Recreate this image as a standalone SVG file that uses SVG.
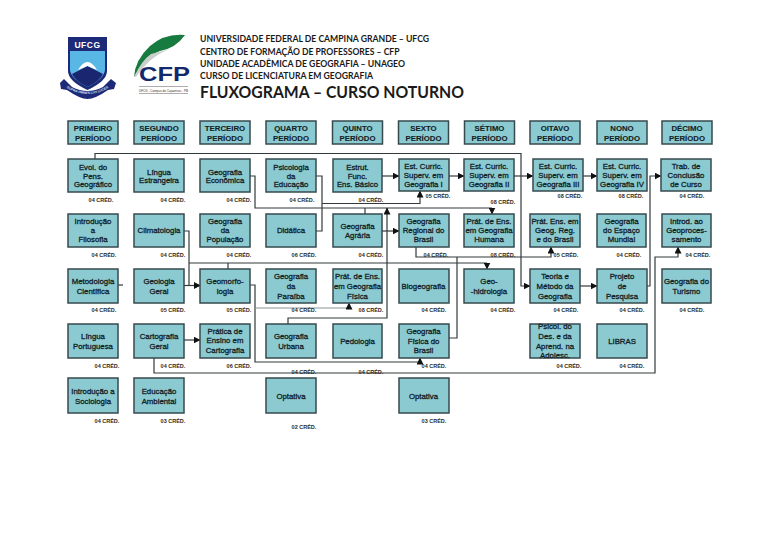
<svg xmlns="http://www.w3.org/2000/svg" width="768" height="543" viewBox="0 0 768 543">
<defs>
<marker id="a" markerWidth="7" markerHeight="7" refX="6.500" refY="3.500" orient="auto" markerUnits="userSpaceOnUse"><path d="M0 0L7 3.500L0 7Z" fill="#111"/></marker>
</defs>
<style>
.h{font-family:"Lato","Liberation Sans",sans-serif;font-weight:700;fill:#1a1a1a}
.hs{font-size:9.400px}
.t{font-size:17px}
.n rect{fill:#8ccad1;stroke:#364a4e;stroke-width:1.500}
.n text{font-family:"Liberation Sans",Arial,sans-serif;font-size:7.800px;fill:#122226;text-anchor:middle;stroke:#122226;stroke-width:.3}
.p text{font-size:7.800px;font-weight:700;stroke-width:.1}
.c{font-family:"Liberation Sans",Arial,sans-serif;font-size:5.500px;font-weight:700;fill:#2a2a2a;text-anchor:middle}
#connectors path{fill:none;stroke:#333a3c;stroke-width:1.200}
.m{marker-end:url(#a)}
</style>
<rect width="768" height="543" fill="#fff"/>
<g id="logo-ufcg">
<path d="M68 37H107V71Q107 81 87.500 90Q68 81 68 71Z" fill="#1c2a78"/>
<path d="M70 51H105V70Q104 79 87.500 87Q71 79 70 70Z" fill="#58b7e4"/>
<path d="M72 74L87.500 66L103 74Q100 81 87.500 87Q75 81 72 74Z" fill="#1a2670"/>
<path d="M78 70Q87.500 54 97 70L87.500 66Z" fill="#fff"/>
<text x="87.500" y="48" font-family="Liberation Sans,sans-serif" font-size="8.500" font-weight="700" fill="#fff" text-anchor="middle" letter-spacing=".5">UFCG</text>
<path d="M60 83L64 79L72 87Q87.500 95 103 87L111 79L116 83L114 89L108 90Q95 99 87.500 99Q80 99 67 90L61 89Z" fill="#1c2a78"/>
<path id="rb" d="M67 88Q87.500 100 108 88" fill="none"/>
<text font-family="Liberation Sans,sans-serif" font-size="3.300" font-weight="700" fill="#dfe6f5" text-anchor="middle"><textPath href="#rb" startOffset="50%">SUPRA OMNES LUX LUCES</textPath></text>
</g>
<g id="logo-cfp">
<path d="M134 77Q135 60 150 46Q165 33 185 35Q176 48 160 51Q146 56 134 77Z" fill="#177a3e"/>
<path d="M134 77Q142 60 151 54L170 49Q150 56 136 77Z" fill="#c9cfcc"/>
<text x="139" y="80.500" font-family="Liberation Sans,sans-serif" font-size="21" font-weight="700" fill="#14286e" textLength="51" lengthAdjust="spacingAndGlyphs">CFP</text>
<text x="139" y="91.500" font-family="Liberation Sans,sans-serif" font-size="4.200" fill="#333" textLength="49" lengthAdjust="spacingAndGlyphs">UFCG - Campus de Cajazeiras - PB</text>
<path d="M139 86.500H188M139 93.500H188" stroke="#777" stroke-width=".6"/>
</g>
<g id="title">
<text class="h hs" x="200" y="42" textLength="229" lengthAdjust="spacingAndGlyphs">UNIVERSIDADE FEDERAL DE CAMPINA GRANDE – UFCG</text>
<text class="h hs" x="200" y="54.500" textLength="199.500" lengthAdjust="spacingAndGlyphs">CENTRO DE FORMAÇÃO DE PROFESSORES – CFP</text>
<text class="h hs" x="200" y="66.500" textLength="205" lengthAdjust="spacingAndGlyphs">UNIDADE ACADÊMICA DE GEOGRAFIA – UNAGEO</text>
<text class="h hs" x="200" y="78.500" textLength="173" lengthAdjust="spacingAndGlyphs">CURSO DE LICENCIATURA EM GEOGRAFIA</text>
<text class="h t" x="200" y="98" textLength="264" lengthAdjust="spacingAndGlyphs">FLUXOGRAMA – CURSO NOTURNO</text>
</g>
<g id="connectors">
<path class="m" d="M95 159V153.500H521V286H530"/>
<path d="M250 176H255V208H492"/><path class="m" d="M492 208V214"/>
<path d="M316 176H322V231H316"/>
<path class="m" d="M322 203.500H420V191"/>
<path d="M365 214V208"/>
<path class="m" d="M288 324V318H387V208"/>
<path d="M189 263H487"/><path class="m" d="M487 263V269"/>
<path d="M228 263V269"/>
<path class="m" d="M184 231H189V285.500H200"/>
<path class="m" d="M184 285.500H200"/>
<path d="M118 285H123"/>
<path class="m" d="M250 285H255V362H420V358"/>
<path class="m" d="M255 308H349V303" style="stroke:#8a9496"/>
<path class="m" d="M154 358V373H655V257H678V247"/>
<path class="m" d="M184 340H200"/>
<path class="m" d="M382 176H399"/>
<path class="m" d="M449 176H464"/>
<path class="m" d="M514 176H533"/>
<path class="m" d="M583 176H597"/>
<path class="m" d="M647 286H650V176H661"/>
<path class="m" d="M580 286H597"/>
<path class="m" d="M382 231H399"/>
<path class="m" d="M416 247V257H551V247"/>
<path d="M457 257V338H449"/>
</g>
<g id="headers" class="n p">
<g id="h1"><rect x="68" y="121" width="50" height="23"/><text x="93" y="130.500">PRIMEIRO</text><text x="93" y="140.500">PERÍODO</text></g>
<g id="h2"><rect x="134" y="121" width="50" height="23"/><text x="159" y="130.500">SEGUNDO</text><text x="159" y="140.500">PERÍODO</text></g>
<g id="h3"><rect x="200" y="121" width="50" height="23"/><text x="225" y="130.500">TERCEIRO</text><text x="225" y="140.500">PERÍODO</text></g>
<g id="h4"><rect x="266" y="121" width="50" height="23"/><text x="291" y="130.500">QUARTO</text><text x="291" y="140.500">PERÍODO</text></g>
<g id="h5"><rect x="332.500" y="121" width="50" height="23"/><text x="357.500" y="130.500">QUINTO</text><text x="357.500" y="140.500">PERÍODO</text></g>
<g id="h6"><rect x="398.500" y="121" width="50" height="23"/><text x="423.500" y="130.500">SEXTO</text><text x="423.500" y="140.500">PERÍODO</text></g>
<g id="h7"><rect x="464.500" y="121" width="50" height="23"/><text x="489.500" y="130.500">SÉTIMO</text><text x="489.500" y="140.500">PERÍODO</text></g>
<g id="h8"><rect x="530" y="121" width="50" height="23"/><text x="555" y="130.500">OITAVO</text><text x="555" y="140.500">PERÍODO</text></g>
<g id="h9"><rect x="597" y="121" width="50" height="23"/><text x="622" y="130.500">NONO</text><text x="622" y="140.500">PERÍODO</text></g>
<g id="h10"><rect x="662" y="121" width="50" height="23"/><text x="687" y="130.500">DÉCIMO</text><text x="687" y="140.500">PERÍODO</text></g>
</g>
<g class="n">
<g id="n1-1"><rect x="68" y="159" width="50" height="33"/><text x="93" y="170">Evol. do</text><text x="93" y="178.500">Pens.</text><text x="93" y="187">Geográfico</text></g>
<g id="n2-1"><rect x="134" y="159" width="50" height="33"/><text x="159" y="175">Língua</text><text x="159" y="183">Estrangeira</text></g>
<g id="n3-1"><rect x="200" y="159" width="50" height="33"/><text x="225" y="175">Geografia</text><text x="225" y="183">Econômica</text></g>
<g id="n4-1"><rect x="266" y="159" width="50" height="33"/><text x="291" y="170">Psicologia</text><text x="291" y="178.500">da</text><text x="291" y="187">Educação</text></g>
<g id="n5-1"><rect x="333" y="159" width="49" height="33"/><text x="357.500" y="170">Estrut.</text><text x="357.500" y="178.500">Func.</text><text x="357.500" y="187">Ens. Básico</text></g>
<g id="n6-1"><rect x="399" y="159" width="50" height="32"/><text x="423.500" y="169">Est. Curric.</text><text x="423.500" y="178">Superv. em</text><text x="423.500" y="186.500">Geografia I</text></g>
<g id="n7-1"><rect x="464" y="159" width="50" height="32"/><text x="489" y="169">Est. Curric.</text><text x="489" y="178">Superv. em</text><text x="489" y="186.500">Geografia II</text></g>
<g id="n8-1"><rect x="533" y="159" width="50" height="32"/><text x="558" y="169">Est. Curric.</text><text x="558" y="178">Superv. em</text><text x="558" y="186.500">Geografia III</text></g>
<g id="n9-1"><rect x="597" y="159" width="50" height="32"/><text x="622" y="169">Est. Curric.</text><text x="622" y="178">Superv. em</text><text x="622" y="186.500">Geografia IV</text></g>
<g id="n10-1"><rect x="661" y="159" width="50" height="32"/><text x="686" y="169">Trab. de</text><text x="686" y="178">Conclusão</text><text x="686" y="186.500">de Curso</text></g>

<g id="n1-2"><rect x="68" y="214" width="50" height="33"/><text x="93" y="224">Introdução</text><text x="93" y="233">a</text><text x="93" y="242">Filosofia</text></g>
<g id="n2-2"><rect x="134" y="214" width="50" height="33"/><text x="159" y="233">Climatologia</text></g>
<g id="n3-2"><rect x="200" y="214" width="50" height="33"/><text x="225" y="224">Geografia</text><text x="225" y="233">da</text><text x="225" y="242">População</text></g>
<g id="n4-2"><rect x="266" y="214" width="50" height="33"/><text x="291" y="233">Didática</text></g>
<g id="n5-2"><rect x="333" y="214" width="49" height="33"/><text x="357.500" y="229">Geografia</text><text x="357.500" y="238">Agrária</text></g>
<g id="n6-2"><rect x="399" y="214" width="50" height="33"/><text x="423.500" y="224">Geografia</text><text x="423.500" y="233">Regional  do</text><text x="423.500" y="242">Brasil</text></g>
<g id="n7-2"><rect x="464" y="214" width="50" height="33"/><text x="489" y="224">Prát. de Ens.</text><text x="489" y="233">em Geografia</text><text x="489" y="242">Humana</text></g>
<g id="n8-2"><rect x="530" y="214" width="50" height="33"/><text x="555" y="224">Prát. Ens. em</text><text x="555" y="233">Geog. Reg.</text><text x="555" y="242">e do Brasil</text></g>
<g id="n9-2"><rect x="597" y="214" width="49" height="33"/><text x="621.500" y="224">Geografia</text><text x="621.500" y="233">do Espaço</text><text x="621.500" y="242">Mundial</text></g>
<g id="n10-2"><rect x="662" y="214" width="49" height="33"/><text x="686.500" y="224">Introd. ao</text><text x="686.500" y="233">Geoproces-</text><text x="686.500" y="242">samento</text></g>

<g id="n1-3"><rect x="68" y="269" width="50" height="34"/><text x="93" y="284">Metodologia</text><text x="93" y="294">Científica</text></g>
<g id="n2-3"><rect x="134" y="269" width="50" height="34"/><text x="159" y="284">Geologia</text><text x="159" y="294">Geral</text></g>
<g id="n3-3"><rect x="200" y="269" width="50" height="34"/><text x="225" y="284">Geomorfo-</text><text x="225" y="294">logia</text></g>
<g id="n4-3"><rect x="266" y="269" width="50" height="34"/><text x="291" y="279">Geografia</text><text x="291" y="289">da</text><text x="291" y="299">Paraíba</text></g>
<g id="n5-3"><rect x="333" y="269" width="49" height="34"/><text x="357.500" y="279">Prát. de Ens.</text><text x="357.500" y="289">em Geografia</text><text x="357.500" y="299">Física</text></g>
<g id="n6-3"><rect x="399" y="269" width="50" height="34"/><text x="423.500" y="289">Biogeografia</text></g>
<g id="n7-3"><rect x="464" y="269" width="50" height="34"/><text x="489" y="284">Geo-</text><text x="489" y="294">-hidrologia</text></g>
<g id="n8-3"><rect x="530" y="269" width="50" height="34"/><text x="555" y="279">Teoria e</text><text x="555" y="289">Método da</text><text x="555" y="299">Geografia</text></g>
<g id="n9-3"><rect x="597" y="269" width="50" height="34"/><text x="622" y="279">Projeto</text><text x="622" y="289">de</text><text x="622" y="299">Pesquisa</text></g>
<g id="n10-3"><rect x="662" y="269" width="49" height="34"/><text x="686.500" y="284">Geografia do</text><text x="686.500" y="294">Turismo</text></g>

<g id="n1-4"><rect x="68" y="324" width="50" height="34"/><text x="93" y="339">Língua</text><text x="93" y="349">Portuguesa</text></g>
<g id="n2-4"><rect x="134" y="324" width="50" height="34"/><text x="159" y="339">Cartografia</text><text x="159" y="349">Geral</text></g>
<g id="n3-4"><rect x="200" y="324" width="50" height="34"/><text x="225" y="334">Prática de</text><text x="225" y="343">Ensino em</text><text x="225" y="353">Cartografia</text></g>
<g id="n4-4"><rect x="266" y="324" width="50" height="34"/><text x="291" y="339">Geografia</text><text x="291" y="349">Urbana</text></g>
<g id="n5-4"><rect x="333" y="324" width="49" height="34"/><text x="357.500" y="344">Pedologia</text></g>
<g id="n6-4"><rect x="399" y="324" width="50" height="34"/><text x="423.500" y="334">Geografia</text><text x="423.500" y="344">Física do</text><text x="423.500" y="353">Brasil</text></g>
<g id="n8-4"><rect x="530" y="324" width="50" height="34"/><text x="555" y="329">Psicol. do</text><text x="555" y="339">Des. e da</text><text x="555" y="349">Aprend. na</text><text x="555" y="358">Adolesc.</text></g>
<g id="n9-4"><rect x="597" y="324" width="50" height="34"/><text x="622" y="344">LIBRAS</text></g>

<g id="n1-5"><rect x="68" y="378" width="50" height="35"/><text x="93" y="394">Introdução a</text><text x="93" y="404">Sociologia</text></g>
<g id="n2-5"><rect x="134" y="378" width="50" height="35"/><text x="159" y="394">Educação</text><text x="159" y="404">Ambiental</text></g>
<g id="n4-5"><rect x="266" y="378" width="50" height="35"/><text x="291" y="399">Optativa</text></g>
<g id="n6-5"><rect x="399" y="378" width="50" height="35"/><text x="423.500" y="399">Optativa</text></g>
</g>
<g id="credits" class="c">
<text x="101" y="202">04 CRÉD.</text><text x="173" y="202">04 CRÉD.</text><text x="239" y="202">04 CRÉD.</text><text x="302" y="202">04 CRÉD.</text><text x="371" y="202">04 CRÉD.</text><text x="438" y="198">05 CRÉD.</text><text x="503" y="204">08 CRÉD.</text><text x="570" y="198">08 CRÉD.</text><text x="631" y="198">08 CRÉD.</text><text x="692" y="198">04 CRÉD.</text>
<text x="104" y="257">04 CRÉD.</text><text x="173" y="257">04 CRÉD.</text><text x="239" y="257">04 CRÉD.</text><text x="304" y="257">06 CRÉD.</text><text x="371" y="257">04 CRÉD.</text><text x="436" y="257">04 CRÉD.</text><text x="503" y="257">08 CRÉD.</text><text x="566" y="257">05 CRÉD.</text><text x="629" y="257">04 CRÉD.</text><text x="698" y="257">04 CRÉD.</text>
<text x="104" y="312">04 CRÉD.</text><text x="173" y="312">05 CRÉD.</text><text x="239" y="312">05 CRÉD.</text><text x="304" y="312">04 CRÉD.</text><text x="371" y="312">08 CRÉD.</text><text x="434" y="312">04 CRÉD.</text><text x="503" y="312">04 CRÉD.</text><text x="566" y="312">04 CRÉD.</text><text x="632" y="312">04 CRÉD.</text><text x="692" y="312">04 CRÉD.</text>
<text x="107" y="368">04 CRÉD.</text><text x="173" y="368">04 CRÉD.</text><text x="239" y="368">06 CRÉD.</text><text x="304" y="373.500">04 CRÉD.</text><text x="371" y="373.500">04 CRÉD.</text><text x="434" y="368">04 CRÉD.</text><text x="569" y="368">04 CRÉD.</text><text x="632" y="368">04 CRÉD.</text>
<text x="107" y="423">04 CRÉD.</text><text x="173" y="423">03 CRÉD.</text><text x="304" y="429">02 CRÉD.</text><text x="434" y="423">03 CRÉD.</text>
</g>
</svg>
